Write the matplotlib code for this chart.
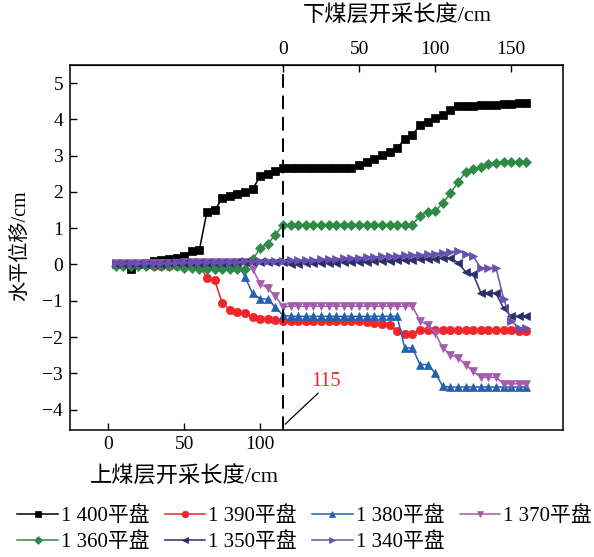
import matplotlib
matplotlib.use("Agg")
import matplotlib.pyplot as plt
import numpy as np

plt.rcParams['font.family'] = ['Liberation Serif', 'Noto Sans CJK SC', 'DejaVu Sans']
plt.rcParams['axes.unicode_minus'] = True

# x positions (upper seam coordinates, cm): 5..115 on upper seam, then 5..160 on lower seam (offset 115)
x_upper = list(range(5, 120, 5))
x_lower = list(range(5, 165, 5))
offset = 115

labels = ["1 400平盘", "1 390平盘", "1 380平盘", "1 370平盘", "1 360平盘", "1 350平盘", "1 340平盘"]

s1400_up = [0.00, 0.00, -0.12, 0.00, 0.05, 0.10, 0.13, 0.15, 0.18, 0.23, 0.37, 0.40, 1.46, 1.49,
            1.82, 1.89, 1.95, 2.01, 2.07, 2.44, 2.50, 2.57, 2.65]
s1400_lo = [2.65, 2.65, 2.65, 2.65, 2.65, 2.65, 2.65, 2.65, 2.65, 2.73, 2.82, 2.92, 3.02, 3.11,
            3.20, 3.47, 3.57, 3.84, 3.94, 4.03, 4.13, 4.25, 4.36, 4.37, 4.38, 4.39, 4.40, 4.41,
            4.42, 4.43, 4.44, 4.45]

s1390_up = [0.00, 0.00, -0.02, -0.02, -0.02, -0.03, -0.03, -0.03, -0.03, -0.03, -0.03, -0.03,
            -0.37, -0.43, -1.05, -1.26, -1.30, -1.35, -1.45, -1.49, -1.51, -1.52, -1.55]
s1390_lo = [-1.57, -1.57, -1.57, -1.57, -1.57, -1.57, -1.57, -1.57, -1.57, -1.57, -1.59, -1.61,
            -1.63, -1.66, -1.84, -1.93, -1.93, -1.80, -1.80, -1.82, -1.82, -1.82, -1.82, -1.82,
            -1.82, -1.82, -1.82, -1.82, -1.82, -1.82, -1.84, -1.84]

s1380_up = [0.02, 0.02, 0.02, 0.02, 0.02, 0.02, 0.03, 0.03, 0.03, 0.03, 0.03, 0.03, 0.04, 0.04,
            0.04, 0.04, 0.03, -0.34, -0.80, -0.94, -0.96, -1.18, -1.40]
s1380_lo = [-1.43, -1.43, -1.43, -1.43, -1.43, -1.43, -1.43, -1.43, -1.43, -1.43, -1.43, -1.43,
            -1.43, -1.43, -1.43, -2.30, -2.30, -2.76, -2.76, -2.99, -3.36, -3.38, -3.38, -3.38,
            -3.38, -3.38, -3.38, -3.38, -3.38, -3.38, -3.38, -3.38]

s1370_up = [0.03, 0.03, 0.04, 0.04, 0.04, 0.05, 0.05, 0.05, 0.05, 0.06, 0.06, 0.06, 0.07, 0.07,
            0.07, 0.08, 0.08, 0.08, -0.12, -0.53, -0.65, -0.87, -1.17]
s1370_lo = [-1.15, -1.15, -1.15, -1.15, -1.15, -1.15, -1.15, -1.15, -1.15, -1.15, -1.15, -1.15,
            -1.15, -1.15, -1.15, -1.15, -1.15, -1.55, -1.67, -1.90, -2.30, -2.49, -2.57, -2.76,
            -2.95, -3.11, -3.11, -3.11, -3.29, -3.29, -3.29, -3.29]

s1360_up = [-0.03, -0.03, -0.03, -0.03, -0.03, -0.04, -0.04, -0.04, -0.05, -0.10, -0.11, -0.12,
            -0.12, -0.12, -0.12, -0.12, -0.12, -0.12, 0.14, 0.45, 0.57, 0.82, 1.09]
s1360_lo = [1.10, 1.10, 1.10, 1.10, 1.10, 1.10, 1.10, 1.10, 1.10, 1.10, 1.10, 1.10, 1.10, 1.10,
            1.10, 1.10, 1.10, 1.33, 1.46, 1.47, 1.69, 1.96, 2.27, 2.55, 2.62, 2.70, 2.76, 2.81,
            2.83, 2.83, 2.83, 2.83]

s1350_up = [0.00, 0.00, 0.01, 0.01, 0.02, 0.02, 0.02, 0.03, 0.03, 0.03, 0.04, 0.04, 0.04, 0.05,
            0.05, 0.05, 0.06, 0.06, 0.06, 0.07, 0.07, 0.08, 0.08]
s1350_lo = [0.01, 0.02, 0.03, 0.03, 0.04, 0.05, 0.05, 0.06, 0.07, 0.07, 0.08, 0.09, 0.10, 0.10,
            0.11, 0.12, 0.13, 0.14, 0.15, 0.16, 0.18, 0.18, 0.05, -0.20, -0.27, -0.78, -0.78,
            -0.80, -1.21, -1.43, -1.43, -1.43]

s1340_up = [0.03, 0.03, 0.04, 0.04, 0.04, 0.05, 0.05, 0.05, 0.06, 0.06, 0.06, 0.07, 0.07, 0.07,
            0.08, 0.08, 0.08, 0.09, 0.09, 0.10, 0.10, 0.10, 0.10]
s1340_lo = [0.11, 0.12, 0.13, 0.13, 0.14, 0.15, 0.16, 0.17, 0.18, 0.19, 0.20, 0.21, 0.22, 0.23,
            0.24, 0.25, 0.26, 0.27, 0.28, 0.30, 0.33, 0.35, 0.37, 0.30, 0.23, -0.10, -0.10,
            -0.10, -0.95, -1.55, -1.76, -1.76]

series_up = [s1400_up, s1390_up, s1380_up, s1370_up, s1360_up, s1350_up, s1340_up]
series_lo = [s1400_lo, s1390_lo, s1380_lo, s1370_lo, s1360_lo, s1350_lo, s1340_lo]
colors = ["#000000", "#f0262a", "#2460b0", "#a55bab", "#2f8a48", "#2c2e6c", "#6850b0"]
markers = ["s", "o", "^", "v", "D", "<", ">"]
msizes = [5.4, 6.0, 6.0, 6.0, 5.2, 6.0, 6.0]

x_all = np.array(x_upper + [v + offset for v in x_lower])

fig = plt.figure(figsize=(5.94, 5.57), dpi=100)
W, H = 594, 557
L, R, T, B = 70, 563, 65, 429.5
ax = fig.add_axes([L / W, 1 - B / H, (R - L) / W, (B - T) / H])

handles = []
for up, lo, c, m, ms, lab in zip(series_up, series_lo, colors, markers, msizes, labels):
    y = np.array(up + lo)
    h, = ax.plot(x_all, y, color=c, marker=m, markersize=ms, linewidth=1.1, label=lab,
                 markeredgewidth=0.5)
    handles.append(h)

ax.axvline(offset, color="black", linestyle=(0, (7, 4)), linewidth=1.4, zorder=5)
ax.plot([116.5, 138], [-4.40, -3.55], color="black", linewidth=0.9)
ax.text(143.5, -3.23, "115", color="#f0262a", fontsize=14.5, ha="center", va="center")

ax.set_xlim(-25, 299)
ax.set_ylim(-4.55, 5.5)
ax.set_xticks([0, 50, 100])
ax.set_yticks(range(-4, 6))
ax.tick_params(direction="in", length=5, width=1, labelsize=14, pad=5)
for sp in ax.spines.values():
    sp.set_linewidth(1.1)

ax.set_xlabel("上煤层开采长度/cm", fontsize=16)
ax.xaxis.label.set_va("center")
ax.xaxis.set_label_coords((184 - L) / (R - L), -(477 - B) / (B - T))
ax.set_ylabel("水平位移/cm", fontsize=14.5)
ax.yaxis.label.set_va("center")
ax.yaxis.set_label_coords((21 - L) / (R - L), (B - 246) / (B - T))

secax = ax.secondary_xaxis("top", functions=(lambda x: x - offset, lambda x: x + offset))
secax.set_xticks([0, 50, 100, 150])
secax.tick_params(direction="in", length=5, width=1, labelsize=14, pad=5)
fig.text(397 / W, 1 - 16 / H, "下煤层开采长度/cm", fontsize=16, ha="center", va="center")

order = [0, 4, 1, 5, 2, 6, 3]
fig.legend([handles[i] for i in order], [labels[i] for i in order], loc="center",
           bbox_to_anchor=(0.513, 1 - 529 / H), ncol=4, frameon=False, fontsize=15,
           handlelength=1.95, handletextpad=0.15, columnspacing=0.72, labelspacing=0.3,
           markerscale=0.8, borderpad=0.1)

fig.savefig("out.png", dpi=100)
